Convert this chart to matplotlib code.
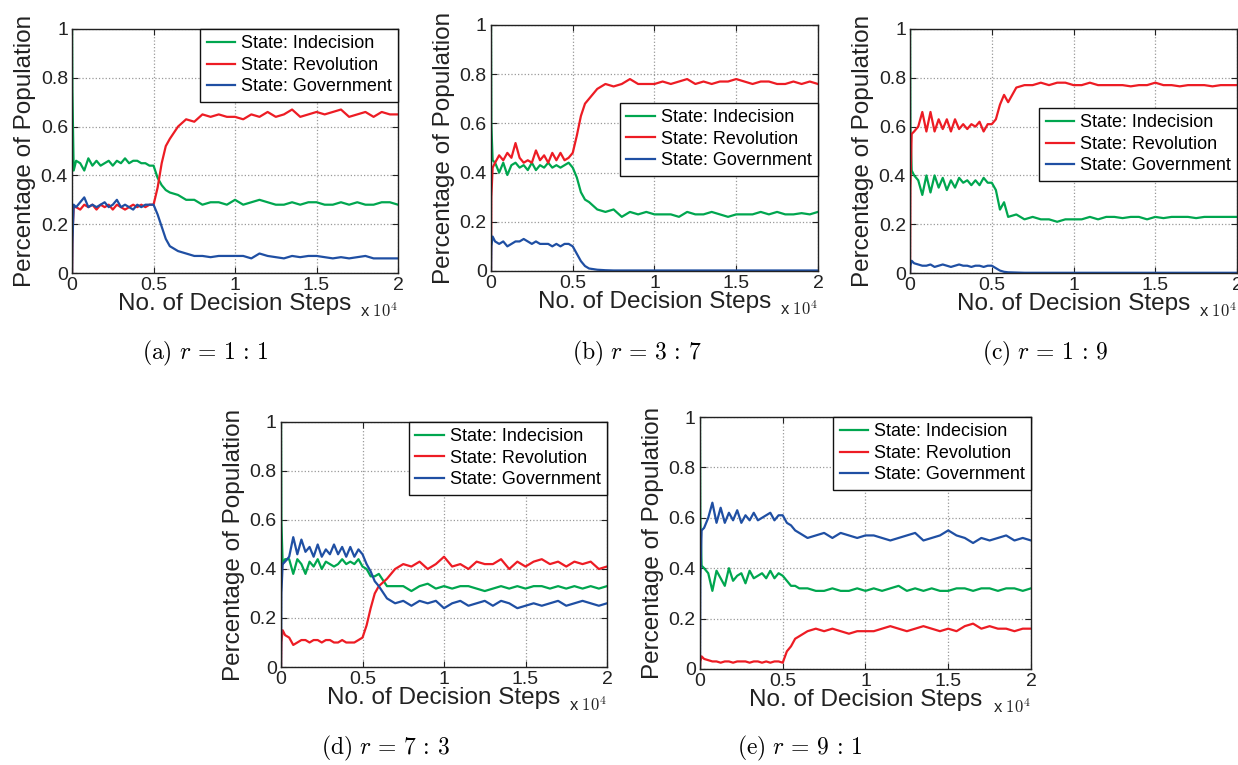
import matplotlib
matplotlib.use("Agg")
import matplotlib.pyplot as plt
from matplotlib.ticker import FormatStrFormatter

plt.rcParams['font.family'] = ['Liberation Sans', 'DejaVu Sans']
plt.rcParams['mathtext.fontset'] = 'cm'

# decision steps, in units of 10^4
steps = [0, 0.002, 0.01, 0.025, 0.05, 0.075, 0.1, 0.125, 0.15, 0.175, 0.2, 0.225,
         0.25, 0.275, 0.3, 0.325, 0.35, 0.375, 0.4, 0.425, 0.45, 0.475, 0.5,
         0.525, 0.55, 0.575, 0.6, 0.65, 0.7, 0.75, 0.8, 0.85, 0.9, 0.95, 1.0,
         1.05, 1.1, 1.15, 1.2, 1.25, 1.3, 1.35, 1.4, 1.45, 1.5, 1.55, 1.6, 1.65,
         1.7, 1.75, 1.8, 1.85, 1.9, 1.95, 2.0]

# (a) r = 1:1
ind_a = [1.0, 0.75, 0.42, 0.46, 0.45, 0.42, 0.47, 0.44, 0.46, 0.44, 0.45, 0.46, 0.44, 0.46, 0.45, 0.47, 0.45, 0.46, 0.46, 0.45, 0.45, 0.44, 0.44,
         0.39, 0.36, 0.34, 0.33, 0.32, 0.30, 0.30, 0.28, 0.29, 0.29, 0.28, 0.30,
         0.28, 0.29, 0.30, 0.29, 0.28, 0.28, 0.29, 0.28, 0.29, 0.29, 0.28, 0.28, 0.29, 0.28, 0.29, 0.28, 0.28, 0.29, 0.29, 0.28]
rev_a = [0.0, 0.15, 0.27, 0.27, 0.26, 0.28, 0.27, 0.28, 0.26, 0.28, 0.27, 0.28, 0.26, 0.28, 0.27, 0.26, 0.27, 0.28, 0.27, 0.28, 0.27, 0.28, 0.28,
         0.35, 0.45, 0.52, 0.55, 0.60, 0.63, 0.62, 0.65, 0.64, 0.65, 0.64, 0.64,
         0.63, 0.65, 0.64, 0.66, 0.64, 0.65, 0.67, 0.64, 0.65, 0.66, 0.65, 0.66, 0.67, 0.64, 0.65, 0.66, 0.64, 0.66, 0.65, 0.65]
gov_a = [0.0, 0.12, 0.28, 0.27, 0.29, 0.31, 0.27, 0.28, 0.27, 0.28, 0.29, 0.27, 0.28, 0.30, 0.27, 0.28, 0.27, 0.26, 0.28, 0.27, 0.28, 0.28, 0.28,
         0.24, 0.19, 0.14, 0.11, 0.09, 0.08, 0.07, 0.07, 0.065, 0.07, 0.07, 0.07,
         0.07, 0.06, 0.08, 0.07, 0.065, 0.06, 0.07, 0.065, 0.07, 0.07, 0.065, 0.06, 0.065, 0.06, 0.065, 0.07, 0.06, 0.06, 0.06, 0.06]

# (b) r = 3:7
ind_b = [1.0, 0.6, 0.45, 0.44, 0.40, 0.44, 0.39, 0.43, 0.44, 0.42, 0.43, 0.41, 0.44, 0.41, 0.43, 0.42, 0.44, 0.42, 0.43, 0.42, 0.43, 0.44, 0.42,
         0.38, 0.32, 0.29, 0.28, 0.25, 0.24, 0.25, 0.22, 0.24, 0.23, 0.24, 0.23,
         0.23, 0.23, 0.22, 0.24, 0.23, 0.23, 0.24, 0.23, 0.22, 0.23, 0.23, 0.23, 0.24, 0.23, 0.24, 0.23, 0.23, 0.235, 0.23, 0.24]
rev_b = [0.0, 0.3, 0.42, 0.44, 0.47, 0.45, 0.48, 0.46, 0.52, 0.46, 0.44, 0.45, 0.44, 0.49, 0.45, 0.47, 0.44, 0.48, 0.45, 0.48, 0.45, 0.46, 0.48,
         0.55, 0.63, 0.68, 0.70, 0.74, 0.76, 0.75, 0.76, 0.78, 0.76, 0.76, 0.76,
         0.77, 0.76, 0.77, 0.78, 0.76, 0.77, 0.76, 0.77, 0.77, 0.78, 0.77, 0.76, 0.77, 0.77, 0.76, 0.76, 0.77, 0.76, 0.77, 0.76]
gov_b = [0.0, 0.1, 0.14, 0.12, 0.11, 0.12, 0.10, 0.11, 0.12, 0.12, 0.13, 0.12, 0.11, 0.12, 0.11, 0.11, 0.11, 0.10, 0.11, 0.10, 0.11, 0.11, 0.10,
         0.07, 0.04, 0.02, 0.01, 0.005, 0.003, 0.002, 0.002, 0.002, 0.002, 0.002, 0.002,
         0.002, 0.002, 0.002, 0.002, 0.002, 0.002, 0.002, 0.002, 0.002, 0.002, 0.002, 0.002, 0.002, 0.002, 0.002, 0.002, 0.002, 0.002, 0.002, 0.002]

# (c) r = 1:9
ind_c = [1.0, 0.6, 0.42, 0.40, 0.38, 0.32, 0.40, 0.33, 0.40, 0.35, 0.39, 0.34, 0.38, 0.35, 0.39, 0.37, 0.38, 0.36, 0.38, 0.36, 0.39, 0.37, 0.37,
         0.34, 0.26, 0.29, 0.23, 0.24, 0.22, 0.23, 0.22, 0.22, 0.21, 0.22, 0.22,
         0.22, 0.23, 0.22, 0.23, 0.23, 0.225, 0.23, 0.23, 0.22, 0.23, 0.225, 0.23, 0.23, 0.23, 0.225, 0.23, 0.23, 0.23, 0.23, 0.23]
rev_c = [0.0, 0.35, 0.57, 0.58, 0.60, 0.66, 0.58, 0.66, 0.58, 0.63, 0.59, 0.63, 0.58, 0.63, 0.59, 0.61, 0.59, 0.61, 0.60, 0.62, 0.58, 0.61, 0.61,
         0.63, 0.69, 0.73, 0.70, 0.76, 0.77, 0.77, 0.78, 0.77, 0.78, 0.78, 0.77,
         0.77, 0.78, 0.77, 0.77, 0.77, 0.77, 0.765, 0.77, 0.77, 0.78, 0.77, 0.77, 0.765, 0.77, 0.77, 0.77, 0.765, 0.77, 0.77, 0.77]
gov_c = [0.0, 0.03, 0.05, 0.04, 0.035, 0.03, 0.03, 0.035, 0.025, 0.03, 0.035, 0.03, 0.025, 0.03, 0.035, 0.03, 0.03, 0.025, 0.03, 0.03, 0.025, 0.03, 0.03,
         0.02, 0.01, 0.005, 0.003, 0.002, 0.001, 0.001, 0.001, 0.001, 0.001, 0.001, 0.001,
         0.001, 0.001, 0.001, 0.001, 0.001, 0.001, 0.001, 0.001, 0.001, 0.001, 0.001, 0.001, 0.001, 0.001, 0.001, 0.001, 0.001, 0.001, 0.001, 0.001]

# (d) r = 7:3
ind_d = [1.0, 0.6, 0.42, 0.44, 0.44, 0.38, 0.44, 0.42, 0.38, 0.43, 0.41, 0.44, 0.40, 0.43, 0.42, 0.41, 0.42, 0.44, 0.42, 0.43, 0.42, 0.44, 0.41,
         0.40, 0.37, 0.37, 0.38, 0.33, 0.33, 0.33, 0.31, 0.33, 0.34, 0.32, 0.33,
         0.32, 0.33, 0.33, 0.32, 0.31, 0.32, 0.33, 0.32, 0.33, 0.32, 0.33, 0.33, 0.32, 0.33, 0.32, 0.33, 0.32, 0.33, 0.32, 0.33]
rev_d = [0.0, 0.1, 0.15, 0.13, 0.12, 0.09, 0.10, 0.11, 0.11, 0.10, 0.11, 0.11, 0.10, 0.11, 0.11, 0.10, 0.10, 0.11, 0.10, 0.10, 0.10, 0.11, 0.12,
         0.17, 0.24, 0.30, 0.33, 0.36, 0.40, 0.42, 0.41, 0.43, 0.40, 0.42, 0.45,
         0.41, 0.42, 0.40, 0.43, 0.42, 0.42, 0.44, 0.40, 0.43, 0.41, 0.43, 0.44, 0.42, 0.43, 0.41, 0.43, 0.42, 0.43, 0.40, 0.41]
gov_d = [0.0, 0.3, 0.42, 0.43, 0.45, 0.53, 0.46, 0.52, 0.47, 0.49, 0.45, 0.50, 0.45, 0.48, 0.46, 0.50, 0.46, 0.49, 0.45, 0.49, 0.45, 0.48, 0.46,
         0.42, 0.39, 0.35, 0.33, 0.28, 0.26, 0.27, 0.25, 0.27, 0.26, 0.27, 0.24,
         0.26, 0.27, 0.25, 0.26, 0.27, 0.25, 0.27, 0.26, 0.24, 0.25, 0.26, 0.25, 0.26, 0.27, 0.25, 0.26, 0.27, 0.26, 0.25, 0.26]

# (e) r = 9:1
ind_e = [1.0, 0.6, 0.41, 0.40, 0.38, 0.31, 0.39, 0.36, 0.33, 0.40, 0.35, 0.37, 0.38, 0.34, 0.39, 0.36, 0.37, 0.38, 0.36, 0.39, 0.36, 0.38, 0.37,
         0.35, 0.33, 0.33, 0.32, 0.32, 0.31, 0.31, 0.32, 0.31, 0.31, 0.32, 0.31,
         0.32, 0.31, 0.32, 0.33, 0.31, 0.32, 0.31, 0.32, 0.31, 0.31, 0.32, 0.32, 0.31, 0.32, 0.32, 0.31, 0.32, 0.32, 0.31, 0.32]
rev_e = [0.0, 0.03, 0.05, 0.04, 0.035, 0.03, 0.03, 0.025, 0.03, 0.03, 0.025, 0.03, 0.03, 0.03, 0.025, 0.03, 0.03, 0.025, 0.03, 0.025, 0.03, 0.03, 0.025,
         0.07, 0.09, 0.12, 0.13, 0.15, 0.16, 0.15, 0.16, 0.15, 0.14, 0.15, 0.15,
         0.15, 0.16, 0.17, 0.16, 0.15, 0.16, 0.17, 0.16, 0.15, 0.16, 0.15, 0.17, 0.18, 0.16, 0.17, 0.16, 0.16, 0.15, 0.16, 0.16]
gov_e = [0.0, 0.35, 0.55, 0.56, 0.60, 0.66, 0.58, 0.64, 0.58, 0.62, 0.59, 0.63, 0.58, 0.61, 0.59, 0.62, 0.59, 0.60, 0.61, 0.62, 0.59, 0.61, 0.61,
         0.58, 0.57, 0.55, 0.54, 0.52, 0.53, 0.54, 0.52, 0.54, 0.53, 0.52, 0.53,
         0.53, 0.52, 0.51, 0.52, 0.53, 0.54, 0.51, 0.52, 0.53, 0.55, 0.53, 0.52, 0.50, 0.52, 0.51, 0.52, 0.53, 0.51, 0.52, 0.51]

labels = ['State: Indecision', 'State: Revolution', 'State: Government']
colors = ['#00a64f', '#ed1c24', '#1f4fa3']
captions = [r'$\mathrm{(a)}\ r\,=\,1\,:\,1$', r'$\mathrm{(b)}\ r\,=\,3\,:\,7$', r'$\mathrm{(c)}\ r\,=\,1\,:\,9$',
            r'$\mathrm{(d)}\ r\,=\,7\,:\,3$', r'$\mathrm{(e)}\ r\,=\,9\,:\,1$']

panels = [(ind_a, rev_a, gov_a), (ind_b, rev_b, gov_b), (ind_c, rev_c, gov_c),
          (ind_d, rev_d, gov_d), (ind_e, rev_e, gov_e)]

# axes rectangles in figure fraction
rects = [[0.0582, 0.6431, 0.2633, 0.319],
         [0.3966, 0.6458, 0.2641, 0.3216],
         [0.7351, 0.6431, 0.2641, 0.319],
         [0.2270, 0.1281, 0.2633, 0.3203],
         [0.5654, 0.1255, 0.2674, 0.3294]]
legend_top = [1.0, 0.683, 0.676, 1.0, 1.0]
caption_pos = [(205, 353), (637, 353), (1045, 353), (385, 748), (800, 748)]

fig = plt.figure(figsize=(12.38, 7.65), dpi=100)

for k, series in enumerate(panels):
    ax = fig.add_axes(rects[k])
    for vals, lab, col in zip(series, labels, colors):
        ax.plot(steps, vals, color=col, lw=1.6, label=lab)
    ax.set_xlim(0, 2)
    ax.set_ylim(0, 1)
    ax.set_xticks([0, 0.5, 1, 1.5, 2])
    ax.set_yticks([0, 0.2, 0.4, 0.6, 0.8, 1])
    ax.xaxis.set_major_formatter(FormatStrFormatter('%g'))
    ax.yaxis.set_major_formatter(FormatStrFormatter('%g'))
    ax.tick_params(direction='in', top=True, right=True, length=4, labelsize=14, pad=3,
                   colors='#222222')
    ax.grid(True, linestyle=':', color='#999999', lw=0.9)
    for sp in ax.spines.values():
        sp.set_color('#222222')
        sp.set_linewidth(1.0)
    ax.set_xlabel('No. of Decision Steps', fontsize=17.5, labelpad=-1, color='#222222')
    ax.set_ylabel('Percentage of Population', fontsize=17.5, labelpad=3, color='#222222')
    ax.annotate(r'x $10^4$', xy=(1, 0), xycoords='axes fraction', xytext=(0, -32),
                textcoords='offset points', ha='right', va='baseline', fontsize=12,
                color='#222222')
    leg = ax.legend(loc='upper right', bbox_to_anchor=(1.0, legend_top[k]), borderaxespad=0,
                    fontsize=13, fancybox=False, framealpha=1, edgecolor='#111111',
                    handlelength=1.6, handletextpad=0.3, labelspacing=0.25, borderpad=0.35)
    leg.get_frame().set_linewidth(1.0)

    cx, cy = caption_pos[k]
    fig.text(cx / 1238, 1 - cy / 765, captions[k], ha='center', va='center', fontsize=17)

fig.savefig('out.png', dpi=100)
